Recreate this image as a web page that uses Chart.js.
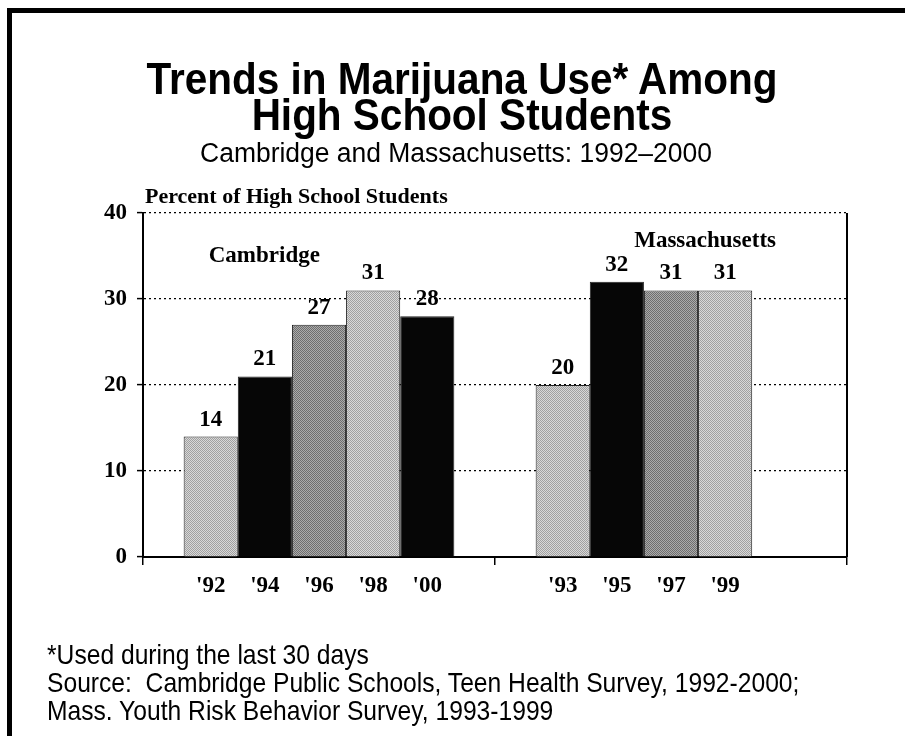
<!DOCTYPE html>
<html>
<head>
<meta charset="utf-8">
<script src="https://cdn.jsdelivr.net/npm/chart.js@4.4.1/dist/chart.umd.min.js"></script>
<style>
  html, body { margin: 0; padding: 0; background: #fff; }
  #page { position: relative; width: 905px; height: 736px; overflow: hidden; background: #fff; }
  #frame { position: absolute; left: 7px; top: 8px; width: 1000px; height: 800px;
           border-left: 5px solid #000; border-top: 5px solid #000; }
  #chart { position: absolute; left: 0; top: 0; }
  .title { position: absolute; left: 0; width: 924px; text-align: center;
           font-family: "Liberation Sans", Arial, sans-serif; font-weight: bold;
           font-size: 45px; line-height: 36px; color: #000; top: 61px;
           transform: scaleX(0.9); transform-origin: 462px 0; }
  .subtitle { position: absolute; left: 0; width: 912px; text-align: center;
              font-family: "Liberation Sans", Arial, sans-serif; font-size: 27px;
              line-height: 30px; color: #000; top: 138px;
              transform: scaleX(0.98); transform-origin: 456px 0; }
  .notes { position: absolute; left: 47px; top: 641px;
           font-family: "Liberation Sans", Arial, sans-serif;
           font-size: 28px; line-height: 28px; color: #000; white-space: pre;
           transform: scaleX(0.88); transform-origin: 0 0; }
</style>
</head>
<body>
<div id="page">
  <div id="frame"></div>
  <canvas id="chart" width="905" height="736"></canvas>
  <div class="title">Trends in Marijuana Use* Among<br>High School Students</div>
  <div class="subtitle">Cambridge and Massachusetts: 1992–2000</div>
  <div class="notes">*Used during the last 30 days
Source:  Cambridge Public Schools, Teen Health Survey, 1992-2000;
Mass. Youth Risk Behavior Survey, 1993-1999</div>
</div>
<script>
// Survey groups and their yearly results (percent using in the last 30 days)
const groups = ['Cambridge', 'Massachusetts'];
const cambridgeYears = ["'92", "'94", "'96", "'98", "'00"];
const cambridgeValues = [14, 21, 27, 31, 28];
const massYears = ["'93", "'95", "'97", "'99"];
const massValues = [20, 32, 31, 31];
const yTicks = [0, 10, 20, 30, 40];
const axisTitle = 'Percent of High School Students';

// halftone-like fills for the grey bars
function halftone(a, b) {
  const c = document.createElement('canvas');
  c.width = 2; c.height = 2;
  const g = c.getContext('2d');
  g.fillStyle = a; g.fillRect(0, 0, 2, 2);
  g.fillStyle = b; g.fillRect(0, 0, 1, 1); g.fillRect(1, 1, 1, 1);
  return g.createPattern(c, 'repeat');
}
const light = halftone('#d8d8d8', '#a0a0a0');
const medium = halftone('#ababab', '#6e6e6e');
const black = '#060606';
const slotFills = [light, black, medium, light, black];

const slots = cambridgeYears.length;
const datasets = [];
for (let i = 0; i < slots; i++) {
  datasets.push({
    data: [cambridgeValues[i], i < massValues.length ? massValues[i] : null],
    years: [cambridgeYears[i], i < massYears.length ? massYears[i] : null],
    backgroundColor: slotFills[i],
    borderColor: '#222',
    borderWidth: 1,
    borderSkipped: 'bottom',
    categoryPercentage: 0.769,
    barPercentage: 1.0
  });
}

const serif = '"Liberation Serif", "Times New Roman", serif';

const barText = {
  id: 'barText',
  afterDatasetsDraw(chart) {
    const ctx = chart.ctx;
    const area = chart.chartArea;
    const y = chart.scales.y;
    ctx.save();
    ctx.fillStyle = '#000';
    ctx.textAlign = 'center';
    ctx.textBaseline = 'alphabetic';
    chart.data.datasets.forEach((ds, di) => {
      const meta = chart.getDatasetMeta(di);
      meta.data.forEach((bar, j) => {
        const v = ds.data[j];
        if (v === null || v === undefined) return;
        ctx.font = 'bold 23px ' + serif;
        ctx.fillText(String(v), bar.x, bar.y - 11);
        ctx.fillText(ds.years[j], bar.x, area.bottom + 35);
      });
    });
    // axis title above the plot
    ctx.textAlign = 'left';
    ctx.font = 'bold 22px ' + serif;
    ctx.fillText(axisTitle, area.left + 2, area.top - 10);
    // group captions inside the plot
    ctx.font = 'bold 23px ' + serif;
    const first = chart.getDatasetMeta(0).data[0];
    ctx.fillText(groups[0], first.x - 2, y.getPixelForValue(34.3));
    ctx.textAlign = 'right';
    ctx.fillText(groups[1], area.right - 71, y.getPixelForValue(36));
    // closing line on the right side of the plot
    ctx.strokeStyle = '#000';
    ctx.lineWidth = 2;
    ctx.beginPath();
    ctx.moveTo(area.right, area.top);
    ctx.lineTo(area.right, area.bottom);
    ctx.stroke();
    ctx.restore();
  }
};

new Chart(document.getElementById('chart'), {
  type: 'bar',
  data: { labels: groups, datasets },
  options: {
    responsive: false,
    animation: false,
    devicePixelRatio: 1,
    layout: { padding: { left: 0, right: 58, top: 213, bottom: 139 } },
    plugins: { legend: { display: false }, tooltip: { enabled: false }, title: { display: false } },
    scales: {
      x: {
        type: 'category',
        offset: true,
        afterFit(s) { s.height = 40; },
        ticks: { display: false },
        grid: { offset: true, drawOnChartArea: false, drawTicks: true, tickLength: 8,
                color: '#000', lineWidth: 1.5 },
        border: { display: true, color: '#000', width: 2 }
      },
      y: {
        min: 0, max: 40,
        afterFit(s) { s.width = 143; },
        afterBuildTicks(s) { s.ticks = yTicks.map(v => ({ value: v })); },
        ticks: { color: '#000', padding: 10, font: { family: serif, size: 23, weight: 'bold' } },
        grid: { color: '#000', lineWidth: 1.2, drawTicks: true, tickLength: 6,
                tickColor: '#000', tickWidth: 1.5 },
        border: { display: true, color: '#000', width: 2, dash: [2, 3] }
      }
    }
  },
  plugins: [barText]
});
</script>
</body>
</html>
